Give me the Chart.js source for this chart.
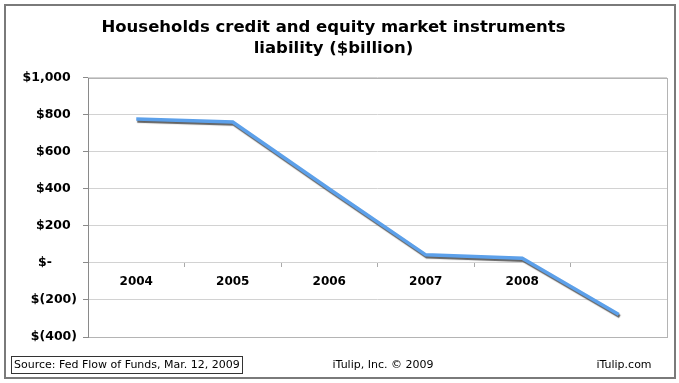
<!DOCTYPE html>
<html>
<head>
<meta charset="utf-8">
<script src="https://cdn.jsdelivr.net/npm/chart.js@4/dist/chart.umd.min.js"></script>
<style>
  html, body { margin: 0; padding: 0; background: #ffffff; }
  #wrap { width: 679px; height: 383px; }
</style>
</head>
<body>
<div id="wrap"><canvas id="c" width="679" height="383"></canvas></div>
<script>
// ---- Data ----
const categories = ['2004', '2005', '2006', '2007', '2008', ''];
const liability = [778, 762, 400, 44, 26, -278];
const yTickValues = [-400, -200, 0, 200, 400, 600, 800, 1000];
const yTickLabels = ['$(400)', '$(200)', '$-\u2002\u2002\u2002\u2002', '$200\u2002', '$400\u2002', '$600\u2002', '$800\u2002', '$1,000\u2002'];
const titleLines = ['Households credit and equity market instruments', 'liability ($billion)'];
const footerSource = 'Source: Fed Flow of Funds, Mar. 12, 2009';
const footerCenter = 'iTulip, Inc. \u00A9 2009';
const footerRight = 'iTulip.com';

const FONT = '"DejaVu Sans", Verdana, sans-serif';

const framePlugin = {
  id: 'frame',
  beforeDraw(chart) {
    const ctx = chart.ctx;
    ctx.save();
    ctx.fillStyle = '#ffffff';
    ctx.fillRect(0, 0, chart.width, chart.height);
    ctx.restore();
  },
  afterDraw(chart) {
    const ctx = chart.ctx;
    const a = chart.chartArea;
    ctx.save();
    // plot area border
    ctx.strokeStyle = '#b4b4b4';
    ctx.lineWidth = 1;
    ctx.strokeRect(Math.round(a.left) + 0.5, Math.round(a.top) + 0.5, Math.round(a.right - a.left), Math.round(a.bottom - a.top));
    // y axis line darker
    ctx.strokeStyle = '#8a8a8a';
    ctx.beginPath();
    ctx.moveTo(Math.round(a.left) + 0.5, a.top);
    ctx.lineTo(Math.round(a.left) + 0.5, a.bottom + 1);
    ctx.stroke();
    // outer frame
    ctx.strokeStyle = '#7a7a7a';
    ctx.lineWidth = 2;
    ctx.strokeRect(5, 5, 670, 373);
    // footer
    ctx.font = '11px ' + FONT;
    ctx.fillStyle = '#000000';
    ctx.textBaseline = 'middle';
    ctx.textAlign = 'left';
    const sw = ctx.measureText(footerSource).width;
    ctx.fillText(footerSource, 14, 365);
    ctx.strokeStyle = '#333333';
    ctx.lineWidth = 1;
    ctx.strokeRect(11.5, 356.5, Math.round(sw) + 5, 17);
    ctx.textAlign = 'center';
    ctx.fillText(footerCenter, 383, 365);
    ctx.fillText(footerRight, 624, 365);
    ctx.restore();
  }
};

const shadowPlugin = {
  id: 'lineShadow',
  beforeDatasetDraw(chart) {
    const ctx = chart.ctx;
    ctx.save();
    ctx.shadowColor = 'rgba(70,70,70,0.85)';
    ctx.shadowOffsetX = 1;
    ctx.shadowOffsetY = 2;
    ctx.shadowBlur = 1;
  },
  afterDatasetDraw(chart) {
    chart.ctx.restore();
  }
};

new Chart(document.getElementById('c'), {
  type: 'line',
  data: {
    labels: categories,
    datasets: [{
      data: liability,
      borderColor: '#5ca0ea',
      borderWidth: 3.5,
      pointRadius: 0,
      tension: 0,
      fill: false
    }]
  },
  options: {
    responsive: false,
    animation: false,
    layout: { padding: { left: 0, right: 12, top: 0, bottom: 46 } },
    plugins: {
      legend: { display: false },
      tooltip: { enabled: false },
      title: {
        display: true,
        text: titleLines,
        color: '#000000',
        font: { family: FONT, size: 16.5, weight: 'bold', lineHeight: 1.2727 },
        padding: { top: 17, bottom: 19 }
      }
    },
    scales: {
      x: {
        type: 'category',
        position: { y: 0 },
        offset: true,
        grid: {
          display: true,
          drawOnChartArea: false,
          drawTicks: true,
          tickLength: 4,
          tickColor: '#aaaaaa',
          offset: true
        },
        border: { display: false },
        ticks: {
          color: '#000000',
          font: { family: FONT, size: 12, weight: 'bold' },
          padding: 8,
          maxRotation: 0,
          autoSkip: false
        }
      },
      y: {
        min: -400,
        max: 1000,
        afterFit(scale) { scale.width = 88; },
        afterBuildTicks(scale) { scale.ticks = yTickValues.map(v => ({ value: v })); },
        grid: {
          color: '#d2d2d2',
          tickColor: '#8a8a8a',
          tickLength: 5,
          drawTicks: true
        },
        border: { display: false },
        ticks: {
          color: '#000000',
          font: { family: FONT, size: 12.5, weight: 'bold' },
          padding: 6,
          callback: (value) => {
            const i = yTickValues.indexOf(value);
            return i >= 0 ? yTickLabels[i] : '';
          }
        }
      }
    }
  },
  plugins: [framePlugin, shadowPlugin]
});
</script>
</body>
</html>
